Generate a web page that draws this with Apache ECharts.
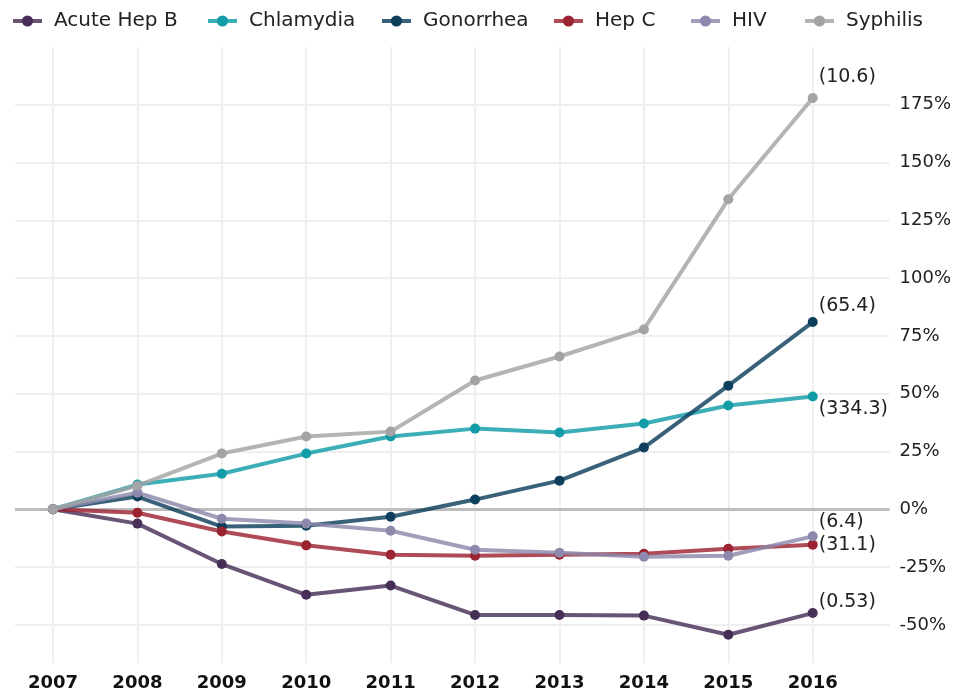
<!DOCTYPE html>
<html lang="en">
<head>
    <meta charset="utf-8" />
    <title>STD trends</title>
    <script type="text/javascript" src="https://cdn.jsdelivr.net/npm/echarts@6/dist/echarts.min.js"></script>
</head>
<body style="margin:0;background-color:#fff">
    <div id="container" style="width:954px;height:692px;"></div>
</body>
</html>
<script type="text/javascript">
    var years = [2007, 2008, 2009, 2010, 2011, 2012, 2013, 2014, 2015, 2016];
    var yTicks = [-50, -25, 0, 25, 50, 75, 100, 125, 150, 175];

    var acuteHepB = [0, -6.2, -23.7, -37.0, -33.0, -45.7, -45.7, -46.0, -54.3, -44.9];
    var chlamydia = [0, 10.7, 15.4, 24.1, 31.5, 34.9, 33.2, 37.1, 44.9, 48.8];
    var gonorrhea = [0, 5.5, -7.5, -7.1, -3.2, 4.2, 12.4, 26.7, 53.5, 81.0];
    var hepC = [0, -1.5, -9.6, -15.6, -19.7, -20.1, -19.7, -19.2, -17.1, -15.3];
    var hiv = [0, 7.2, -4.1, -6.2, -9.3, -17.5, -18.8, -20.5, -20.1, -11.7];
    var syphilis = [0, 10.2, 24.1, 31.5, 33.6, 55.7, 66.1, 77.8, 134.1, 177.9];

    // 2016 labels at end of each line
    var endLabels = {
        'Acute Hep B': '(0.53)',
        'Chlamydia': '(334.3)',
        'Gonorrhea': '(65.4)',
        'Hep C': '(31.1)',
        'HIV': '(6.4)',
        'Syphilis': '(10.6)'
    };

    var FONT = 'DejaVu Sans';
    var dom = document.getElementById("container");
    var myChart = echarts.init(dom);

    var pairs = function (vals) {
        return years.map(function (y, i) { return [y, vals[i]]; });
    };

    var makeSeries = function (name, vals, color, offsetY) {
        return {
            name: name,
            type: 'line',
            data: pairs(vals),
            symbol: 'circle',
            symbolSize: 10,
            showSymbol: true,
            lineStyle: { width: 4, color: color, opacity: 0.82 },
            itemStyle: { color: color },
            endLabel: {
                show: true,
                formatter: function () { return endLabels[name]; },
                color: '#222',
                fontFamily: FONT,
                fontSize: 19,
                distance: 6,
                offset: [0, offsetY]
            },
            emphasis: { disabled: true },
            z: 3
        };
    };

    var series = [
        makeSeries('Acute Hep B', acuteHepB, '#472e57', -11),
        makeSeries('Chlamydia', chlamydia, '#119ca8', 13),
        makeSeries('Gonorrhea', gonorrhea, '#0d3e5c', -16),
        makeSeries('Hep C', hepC, '#9c2331', 0),
        makeSeries('HIV', hiv, '#8c89ad', -14),
        makeSeries('Syphilis', syphilis, '#a3a3a5', -21)
    ];
    // zero line
    series[0].markLine = {
        silent: true,
        symbol: 'none',
        label: { show: false },
        lineStyle: { color: '#bdbdbd', width: 3, type: 'solid' },
        data: [{ yAxis: 0 }],
        z: 1
    };

    // one legend per item so each sits where the original put it
    var legendNames = ['Acute Hep B', 'Chlamydia', 'Gonorrhea', 'Hep C', 'HIV', 'Syphilis'];
    var legendLeft = [11, 206, 380, 552, 689, 803];
    var legends = legendNames.map(function (n, i) {
        return {
            left: legendLeft[i],
            top: 11,
            padding: 0,
            itemWidth: 29,
            itemHeight: 14,
            lineStyle: { width: 4 },
            textStyle: { color: '#222', fontFamily: FONT, fontSize: 20, padding: [0, 0, 0, 7] },
            data: [n]
        };
    });

    var option = {
        backgroundColor: '#fff',
        animation: false,
        legend: legends,
        grid: { left: 15, right: 64, top: 47, bottom: 29, containLabel: false },
        xAxis: {
            type: 'value',
            min: 2006.55,
            max: 2016.91,
            axisLine: { show: false },
            axisTick: { show: false, customValues: years },
            axisLabel: {
                customValues: years,
                color: '#111',
                fontFamily: FONT,
                fontWeight: 'bold',
                fontSize: 18,
                margin: 11,
                formatter: function (v) { return String(v); }
            },
            splitLine: { show: true, lineStyle: { color: '#efefef', width: 2 } }
        },
        yAxis: {
            type: 'value',
            position: 'right',
            min: -66.5,
            max: 200,
            axisLine: { show: false },
            axisTick: { show: false, customValues: yTicks },
            axisLabel: {
                customValues: yTicks,
                color: '#222',
                fontFamily: FONT,
                fontSize: 18,
                margin: 10,
                formatter: function (v) { return v + '%'; }
            },
            splitLine: { show: true, lineStyle: { color: '#efefef', width: 2 } }
        },
        series: series
    };
    myChart.setOption(option, true);
</script>
